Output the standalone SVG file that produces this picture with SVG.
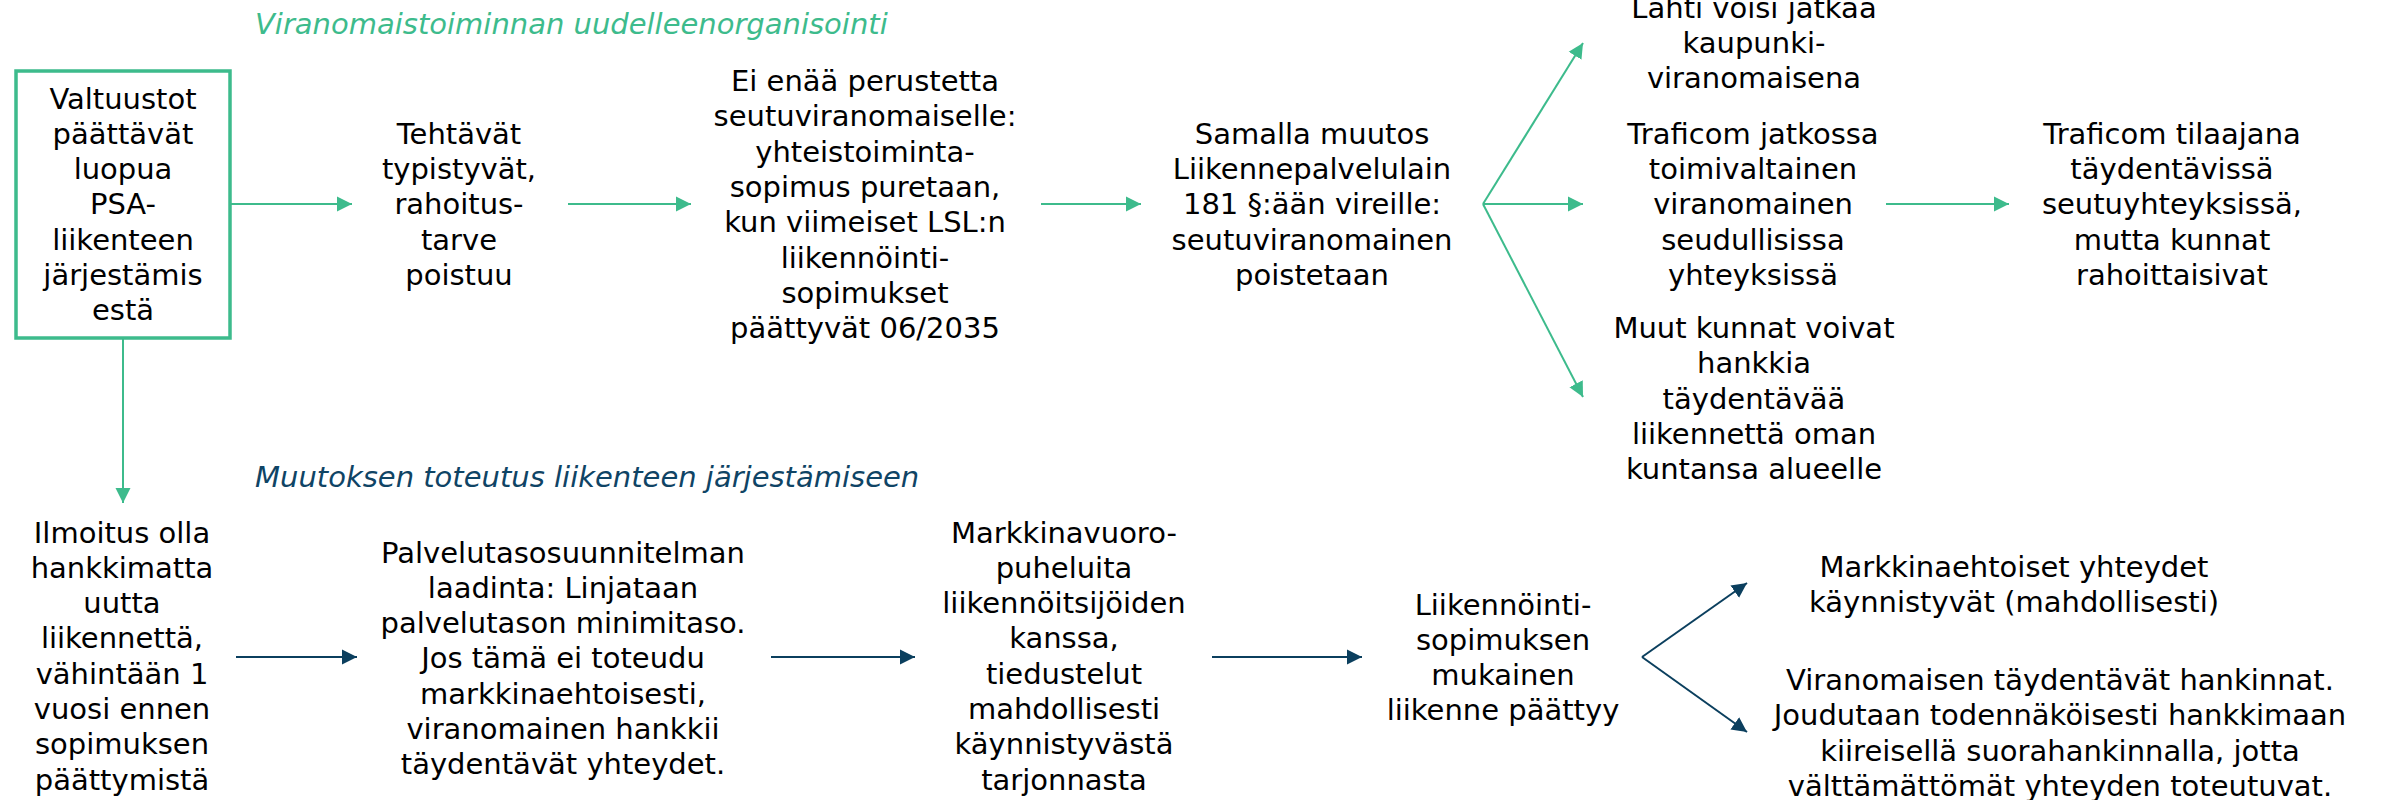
<svg xmlns="http://www.w3.org/2000/svg" width="2382" height="800" viewBox="0 0 2382 800">
<style>
text{font-family:"DejaVu Sans","Verdana",sans-serif;font-size:29px;fill:#000;text-anchor:middle}
.title{font-style:italic;text-anchor:start}
.tg{fill:#3DBB8C}
.tb{fill:#0F4465}
.cg{stroke:#3DBB8C;stroke-width:2;fill:none}
.cb{stroke:#0B3F5E;stroke-width:2;fill:none}
</style>
<defs>
<marker id="ag" markerUnits="userSpaceOnUse" markerWidth="16" markerHeight="16" refX="15" refY="8" orient="auto" viewBox="0 0 16 16"><path d="M0,0.5 L15,8 L0,15.5 Z" fill="#3DBB8C"/></marker>
<marker id="ab" markerUnits="userSpaceOnUse" markerWidth="16" markerHeight="16" refX="15" refY="8" orient="auto" viewBox="0 0 16 16"><path d="M0,0.5 L15,8 L0,15.5 Z" fill="#0B3F5E"/></marker>
</defs>
<rect width="2382" height="800" fill="#fff"/>
<text class="title tg" x="255" y="34">Viranomaistoiminnan uudelleenorganisointi</text>
<text class="title tb" x="255" y="487">Muutoksen toteutus liikenteen järjestämiseen</text>

<g id="connectors">
<path class="cg" marker-end="url(#ag)" d="M231,204 L352,204"/>
<path class="cg" marker-end="url(#ag)" d="M568,204 L691,204"/>
<path class="cg" marker-end="url(#ag)" d="M1041,204 L1141,204"/>
<path class="cg" marker-end="url(#ag)" d="M1483,204 L1583,43"/>
<path class="cg" marker-end="url(#ag)" d="M1483,204 L1583,204"/>
<path class="cg" marker-end="url(#ag)" d="M1483,204 L1583,397"/>
<path class="cg" marker-end="url(#ag)" d="M1886,204 L2009,204"/>
<path class="cg" marker-end="url(#ag)" d="M123,339 L123,503"/>
<path class="cb" marker-end="url(#ab)" d="M236,657 L357,657"/>
<path class="cb" marker-end="url(#ab)" d="M771,657 L915,657"/>
<path class="cb" marker-end="url(#ab)" d="M1212,657 L1362,657"/>
<path class="cb" marker-end="url(#ab)" d="M1642,657 L1747,583"/>
<path class="cb" marker-end="url(#ab)" d="M1642,657 L1747,732"/>
</g>

<g id="n-valtuustot">
<rect x="16" y="71" width="214" height="267" fill="#fff" stroke="#3DBB8C" stroke-width="3.5"/>
<text x="123" y="108.5">Valtuustot</text>
<text x="123" y="143.8">päättävät</text>
<text x="123" y="179.1">luopua</text>
<text x="123" y="214.4">PSA-</text>
<text x="123" y="249.7">liikenteen</text>
<text x="123" y="285">järjestämis</text>
<text x="123" y="320.3">estä</text>
</g>

<g id="n-tehtavat">
<text x="459" y="143.8">Tehtävät</text>
<text x="459" y="179.1">typistyvät,</text>
<text x="459" y="214.4">rahoitus-</text>
<text x="459" y="249.7">tarve</text>
<text x="459" y="285">poistuu</text>
</g>

<g id="n-eienaa">
<text x="865" y="91">Ei enää perustetta</text>
<text x="865" y="126.3">seutuviranomaiselle:</text>
<text x="865" y="161.6">yhteistoiminta-</text>
<text x="865" y="196.9">sopimus puretaan,</text>
<text x="865" y="232.2">kun viimeiset LSL:n</text>
<text x="865" y="267.5">liikennöinti-</text>
<text x="865" y="302.8">sopimukset</text>
<text x="865" y="338.1">päättyvät 06/2035</text>
</g>

<g id="n-samalla">
<text x="1312" y="143.8">Samalla muutos</text>
<text x="1312" y="179.1">Liikennepalvelulain</text>
<text x="1312" y="214.4">181 §:ään vireille:</text>
<text x="1312" y="249.7">seutuviranomainen</text>
<text x="1312" y="285">poistetaan</text>
</g>

<g id="n-lahti">
<text x="1754" y="18">Lahti voisi jatkaa</text>
<text x="1754" y="53">kaupunki-</text>
<text x="1754" y="88">viranomaisena</text>
</g>

<g id="n-traficom1">
<text x="1753" y="143.8">Traficom jatkossa</text>
<text x="1753" y="179.1">toimivaltainen</text>
<text x="1753" y="214.4">viranomainen</text>
<text x="1753" y="249.7">seudullisissa</text>
<text x="1753" y="285">yhteyksissä</text>
</g>

<g id="n-muut">
<text x="1754" y="338">Muut kunnat voivat</text>
<text x="1754" y="373">hankkia</text>
<text x="1754" y="408.5">täydentävää</text>
<text x="1754" y="444">liikennettä oman</text>
<text x="1754" y="479">kuntansa alueelle</text>
</g>

<g id="n-traficom2">
<text x="2172" y="143.8">Traficom tilaajana</text>
<text x="2172" y="179.1">täydentävissä</text>
<text x="2172" y="214.4">seutuyhteyksissä,</text>
<text x="2172" y="249.7">mutta kunnat</text>
<text x="2172" y="285">rahoittaisivat</text>
</g>

<g id="n-ilmoitus">
<text x="122" y="542.5">Ilmoitus olla</text>
<text x="122" y="577.8">hankkimatta</text>
<text x="122" y="613.1">uutta</text>
<text x="122" y="648.4">liikennettä,</text>
<text x="122" y="683.7">vähintään 1</text>
<text x="122" y="719">vuosi ennen</text>
<text x="122" y="754.3">sopimuksen</text>
<text x="122" y="789.6">päättymistä</text>
</g>

<g id="n-palvelu">
<text x="563" y="562.5">Palvelutasosuunnitelman</text>
<text x="563" y="597.8">laadinta: Linjataan</text>
<text x="563" y="633.1">palvelutason minimitaso.</text>
<text x="563" y="668.4">Jos tämä ei toteudu</text>
<text x="563" y="703.7">markkinaehtoisesti,</text>
<text x="563" y="739">viranomainen hankkii</text>
<text x="563" y="774.3">täydentävät yhteydet.</text>
</g>

<g id="n-markkinavuoro">
<text x="1064" y="542.5">Markkinavuoro-</text>
<text x="1064" y="577.8">puheluita</text>
<text x="1064" y="613.1">liikennöitsijöiden</text>
<text x="1064" y="648.4">kanssa,</text>
<text x="1064" y="683.7">tiedustelut</text>
<text x="1064" y="719">mahdollisesti</text>
<text x="1064" y="754.3">käynnistyvästä</text>
<text x="1064" y="789.6">tarjonnasta</text>
</g>

<g id="n-liikennointi">
<text x="1503" y="614.5">Liikennöinti-</text>
<text x="1503" y="649.8">sopimuksen</text>
<text x="1503" y="685.1">mukainen</text>
<text x="1503" y="720.4">liikenne päättyy</text>
</g>

<g id="n-markkinaehtoiset">
<text x="2014" y="577">Markkinaehtoiset yhteydet</text>
<text x="2014" y="612">käynnistyvät (mahdollisesti)</text>
</g>

<g id="n-viranomaisen">
<text x="2060" y="690">Viranomaisen täydentävät hankinnat.</text>
<text x="2060" y="725.3">Joudutaan todennäköisesti hankkimaan</text>
<text x="2060" y="760.6">kiireisellä suorahankinnalla, jotta</text>
<text x="2060" y="795.9">välttämättömät yhteyden toteutuvat.</text>
</g>
</svg>
